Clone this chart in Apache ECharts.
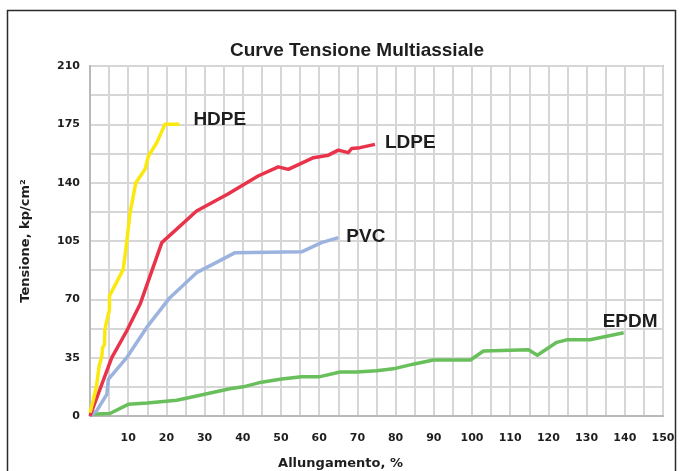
<!DOCTYPE html>
<html>
<head>
<meta charset="utf-8">
<script src="https://cdn.jsdelivr.net/npm/echarts@6/dist/echarts.min.js"></script>
<style>
html,body{margin:0;padding:0;background:#fff;}
#chart{width:683px;height:471px;}
</style>
</head>
<body>
<div id="chart"></div>
<script>
// Elongation (%) and tension (kp/cm²)
const hdpeElong   = [0, 0.9, 1.7, 2.4, 3.1, 3.3, 3.8, 3.9, 4.4, 5.1, 5.1, 8.7, 9.6, 10.5, 12, 14.4, 15.3, 17.5, 19.6, 23.4];
const hdpeTension = [2, 10, 18, 30, 36, 41, 43, 52, 57, 64, 72, 88, 104, 122, 140, 148, 156, 164, 175, 175];

const ldpeElong   = [0, 5.7, 9.6, 13.1, 18.8, 27.9, 36, 44, 49.3, 51.9, 58.5, 62.4, 65, 67.6, 68.5, 70.7, 74.6];
const ldpeTension = [0, 35, 51, 67, 104, 123, 133, 144, 149.5, 148, 155, 156.5, 159.5, 158, 160.5, 161, 163];

const pvcElong    = [0, 1.7, 4.4, 4.8, 9.6, 14.8, 20.9, 27.9, 33, 38, 55.4, 60.6, 65];
const pvcTension  = [0, 3, 13, 22, 35, 53, 71, 86, 92, 98, 98.5, 104, 107];

const epdmElong   = [0, 5.2, 10, 15, 22.7, 27, 33, 36.6, 40.1, 44.9, 50.2, 55.4, 60.2, 65.5, 69.8, 75, 79.4, 84.6, 89.9, 99.6, 103, 114.8, 117.1, 122.2, 124.8, 130.9, 139.7];
const epdmTension = [1, 1.5, 7, 7.8, 9.5, 11.5, 14.5, 16.3, 17.5, 20.3, 22.2, 23.6, 23.6, 26.4, 26.4, 27.1, 28.3, 31.1, 33.6, 33.6, 39, 39.8, 36.5, 44.2, 45.7, 45.7, 49.9];

const seriesNames  = ['HDPE', 'LDPE', 'PVC', 'EPDM'];
const seriesColors = ['#fbe80c', '#e8334a', '#9cb3df', '#69bf5b'];

function pairs(xs, ys) { return xs.map((x, i) => [x, ys[i]]); }

const datasets = [
  pairs(hdpeElong, hdpeTension),
  pairs(ldpeElong, ldpeTension),
  pairs(pvcElong, pvcTension),
  pairs(epdmElong, epdmTension)
];
const labelOffsets = [[6, -5], [2, -2], [0, -1], [-29, -11]];

const chart = echarts.init(document.getElementById('chart'));
const lib = "'Liberation Sans', Arial, sans-serif";
const wide = "'DejaVu Sans', sans-serif";

chart.setOption({
  animation: false,
  backgroundColor: '#fff',
  title: {
    text: 'Curve Tensione Multiassiale',
    left: 352, top: 36, textAlign: 'center',
    textStyle: { fontFamily: lib, fontWeight: 'bold', fontSize: 19, color: '#1e1e1e' }
  },
  graphic: [{
    type: 'rect',
    shape: { x: 7.5, y: 10.5, width: 668, height: 480 },
    style: { fill: 'none', stroke: '#2a2a2a', lineWidth: 1.5 },
    silent: true
  }],
  grid: {
    left: 90, right: 20, top: 66, bottom: 55,
    containLabel: false, outerBoundsMode: 'none',
    show: true, borderColor: '#b9b9b9', borderWidth: 2
  },
  xAxis: {
    type: 'value', min: 0, max: 150, interval: 5,
    name: 'Allungamento, %', nameLocation: 'middle', nameGap: 41,
    nameTextStyle: { fontFamily: wide, fontWeight: 'bold', fontSize: 13, color: '#1e1e1e', padding: [0, 72, 0, 0] },
    axisLine: { show: true, lineStyle: { color: '#b9b9b9', width: 2 } },
    axisTick: { show: false },
    splitLine: { show: true, lineStyle: { color: '#d6d6d6', width: 2 } },
    axisLabel: {
      margin: 17, fontFamily: wide, fontWeight: 'bold', fontSize: 11, color: '#1e1e1e',
      formatter: v => (v > 0 && v % 10 === 0) ? String(v) : ''
    }
  },
  yAxis: {
    type: 'value', min: 0, max: 210, interval: 17.5,
    name: 'Tensione, kp/cm²', nameLocation: 'middle', nameGap: 58, nameRotate: 90,
    nameTextStyle: { fontFamily: wide, fontWeight: 'bold', fontSize: 13, color: '#1e1e1e' },
    axisLine: { show: true, lineStyle: { color: '#b9b9b9', width: 2 } },
    axisTick: { show: false },
    splitLine: { show: true, lineStyle: { color: '#d6d6d6', width: 2 } },
    axisLabel: {
      margin: 10, fontFamily: wide, fontWeight: 'bold', fontSize: 11, color: '#1e1e1e',
      formatter: v => (Math.abs(v % 35) < 1e-9) ? String(v) : ''
    }
  },
  series: seriesNames.map((name, i) => ({
    name: name,
    type: 'line',
    data: datasets[i],
    showSymbol: false,
    symbol: 'none',
    lineStyle: { color: seriesColors[i], width: 3.5, join: 'round' },
    itemStyle: { color: seriesColors[i] },
    z: 4 - i,
    endLabel: {
      show: true, formatter: name, offset: labelOffsets[i],
      fontFamily: lib, fontWeight: 'bold', fontSize: 19, color: '#1e1e1e'
    }
  }))
});
</script>
</body>
</html>
